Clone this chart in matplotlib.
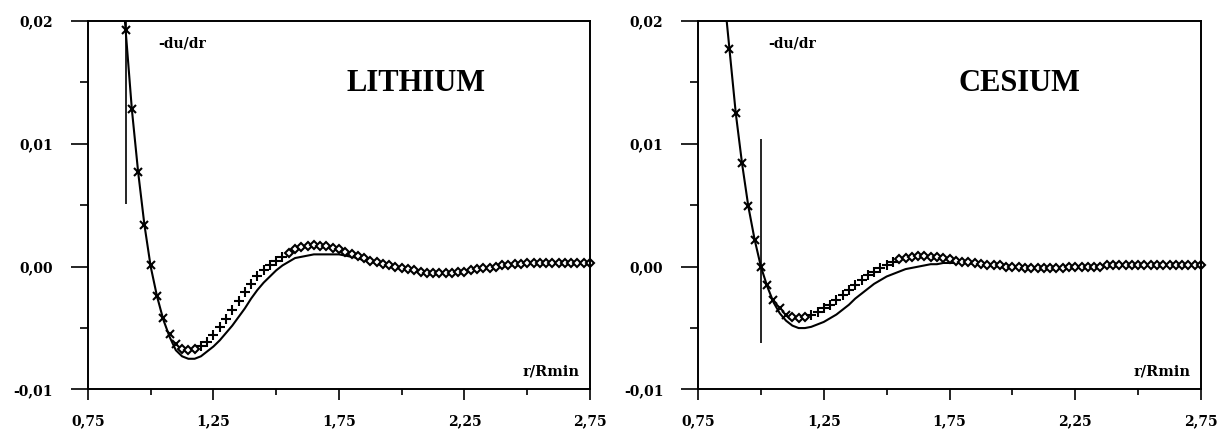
import numpy as np
import matplotlib
matplotlib.use("Agg")
import matplotlib.pyplot as plt

# -du/dr versus r/Rmin, two alkali metals
r_li_sim = np.round(np.arange(0.900, 2.7501, 0.025), 3)
li_sim = [
    0.0193, 0.0128, 0.0077, 0.0034, 0.0001, -0.0024, -0.0042, -0.0055, -0.0063, -0.0067,
    -0.0068, -0.0067, -0.0065, -0.0061, -0.0056, -0.0049, -0.0043, -0.0035, -0.0028, -0.0021,
    -0.0014, -0.0008, -0.0003, 0.0001, 0.0005, 0.0008, 0.0011, 0.0014, 0.0016, 0.0017,
    0.0018, 0.0017, 0.0017, 0.0015, 0.0014, 0.0012, 0.0010, 0.0009, 0.0007, 0.0005,
    0.0004, 0.0002, 0.0001, 0.0000, -0.0001, -0.0002, -0.0003, -0.0004, -0.0005, -0.0005,
    -0.0005, -0.0005, -0.0005, -0.0004, -0.0004, -0.0003, -0.0002, -0.0001, -0.0001, 0.0000,
    0.0001, 0.0001, 0.0002, 0.0002, 0.0003, 0.0003, 0.0003, 0.0003, 0.0003, 0.0003,
    0.0003, 0.0003, 0.0003, 0.0003, 0.0003,
]
r_li_fit = np.round(np.arange(0.875, 2.7501, 0.025), 3)
li_fit = [
    0.0257, 0.0193, 0.0128, 0.0077, 0.0034, 0.0000, -0.0024, -0.0043, -0.0057, -0.0068,
    -0.0073, -0.0075, -0.0075, -0.0073, -0.0069, -0.0065, -0.0060, -0.0054, -0.0048, -0.0041,
    -0.0034, -0.0026, -0.0019, -0.0013, -0.0008, -0.0003, 0.0001, 0.0004, 0.0007, 0.0008,
    0.0009, 0.0010, 0.0010, 0.0010, 0.0010, 0.0010, 0.0009, 0.0008, 0.0007, 0.0005,
    0.0004, 0.0003, 0.0002, 0.0001, 0.0000, -0.0001, -0.0002, -0.0003, -0.0004, -0.0005,
    -0.0005, -0.0005, -0.0005, -0.0005, -0.0004, -0.0004, -0.0003, -0.0002, -0.0001, -0.0001,
    0.0000, 0.0001, 0.0001, 0.0002, 0.0002, 0.0003, 0.0003, 0.0003, 0.0003, 0.0003,
    0.0003, 0.0003, 0.0003, 0.0003, 0.0003, 0.0003,
]

r_cs_sim = np.round(np.arange(0.875, 2.7501, 0.025), 3)
cs_sim = [
    0.0177, 0.0125, 0.0084, 0.0049, 0.0022, 0.0000, -0.0015, -0.0027, -0.0034, -0.0039,
    -0.0041, -0.0042, -0.0041, -0.0039, -0.0037, -0.0034, -0.0031, -0.0027, -0.0023, -0.0019,
    -0.0015, -0.0011, -0.0007, -0.0004, -0.0001, 0.0001, 0.0004, 0.0006, 0.0007, 0.0008,
    0.0009, 0.0009, 0.0008, 0.0008, 0.0007, 0.0006, 0.0005, 0.0004, 0.0004, 0.0003,
    0.0002, 0.0001, 0.0001, 0.0001, 0.0000, 0.0000, 0.0000, -0.0001, -0.0001, -0.0001,
    -0.0001, -0.0001, -0.0001, -0.0001, 0.0000, 0.0000, 0.0000, 0.0000, 0.0000, 0.0000,
    0.0001, 0.0001, 0.0001, 0.0001, 0.0001, 0.0001, 0.0001, 0.0001, 0.0001, 0.0001,
    0.0001, 0.0001, 0.0001, 0.0001, 0.0001, 0.0001,
]
r_cs_fit = np.round(np.arange(0.850, 2.7501, 0.025), 3)
cs_fit = [
    0.0229, 0.0177, 0.0125, 0.0084, 0.0049, 0.0022, 0.0000, -0.0016, -0.0029, -0.0038,
    -0.0044, -0.0048, -0.0050, -0.0050, -0.0049, -0.0047, -0.0045, -0.0042, -0.0039, -0.0035,
    -0.0031, -0.0026, -0.0022, -0.0018, -0.0014, -0.0011, -0.0008, -0.0006, -0.0004, -0.0002,
    -0.0001, 0.0000, 0.0001, 0.0002, 0.0002, 0.0003, 0.0003, 0.0003, 0.0003, 0.0003,
    0.0002, 0.0002, 0.0002, 0.0001, 0.0001, 0.0001, 0.0000, 0.0000, 0.0000, -0.0001,
    -0.0001, -0.0001, -0.0001, -0.0001, -0.0001, -0.0001, 0.0000, 0.0000, 0.0000, 0.0000,
    0.0000, 0.0000, 0.0001, 0.0001, 0.0001, 0.0001, 0.0001, 0.0001, 0.0001, 0.0001,
    0.0001, 0.0001, 0.0001, 0.0001, 0.0001, 0.0001, 0.0001,
]

x_ticks = [0.75, 1.25, 1.75, 2.25, 2.75]
x_labels = ["0,75", "1,25", "1,75", "2,25", "2,75"]
y_ticks = [-0.01, 0.0, 0.01, 0.02]
y_labels = ["-0,01", "0,00", "0,01", "0,02"]

# vertical marker lines (x, ymin, ymax)
li_vline = (0.9, 0.0051, 0.02)
cs_vline = (1.0, -0.0062, 0.0104)

BOLD = dict(family="DejaVu Serif", weight="bold")


def draw_panel(ax, r_sim, sim, r_fit, fit, vline, name, name_x):
    ax.plot(r_fit, fit, color="black", lw=1.5, clip_on=True)
    r_sim = np.asarray(r_sim)
    sim = np.asarray(sim)
    groups = [
        (r_sim <= 1.1, "x", 5.5),
        ((r_sim > 1.1) & (r_sim < 1.2), "D", 4.0),
        ((r_sim >= 1.2) & (r_sim <= 1.525), "+", 6.5),
        (r_sim > 1.525, "D", 4.0),
    ]
    for mask, mk, ms in groups:
        ax.plot(r_sim[mask], sim[mask], ls="none", marker=mk, ms=ms,
                mec="black", mfc="white", mew=1.5, clip_on=False)
    ax.vlines(vline[0], vline[1], vline[2], color="black", lw=1.2)

    ax.set_xlim(0.75, 2.75)
    ax.set_ylim(-0.01, 0.02)
    ax.set_xticks(x_ticks)
    ax.set_xticklabels(x_labels, **BOLD, fontsize=10)
    ax.set_xticks([1.0, 1.5, 2.0, 2.5], minor=True)
    ax.set_yticks(y_ticks)
    ax.set_yticklabels(y_labels, **BOLD, fontsize=10)
    ax.set_yticks([-0.005, 0.005, 0.015], minor=True)
    ax.tick_params(axis="x", which="major", direction="out", length=8, width=1.2, pad=10)
    ax.tick_params(axis="x", which="minor", direction="out", length=4, width=1.2)
    ax.tick_params(axis="y", which="major", direction="out", length=12, width=1.2, pad=13)
    ax.tick_params(axis="y", which="minor", direction="out", length=6, width=1.2)
    for s in ax.spines.values():
        s.set_linewidth(1.4)

    ax.text(1.03, 0.0182, "-du/dr", fontsize=10, va="center", ha="left", **BOLD)
    ax.text(2.71, -0.0085, "r/Rmin", fontsize=10.5, va="center", ha="right", **BOLD)
    ax.text(name_x, 0.0149, name, fontsize=22, va="center", ha="center",
            family="Liberation Serif", weight="bold")


fig = plt.figure(figsize=(12.18, 4.36), dpi=100)
ax1 = fig.add_axes([0.0722, 0.1067, 0.4122, 0.8451])
ax2 = fig.add_axes([0.5731, 0.1067, 0.4130, 0.8451])

draw_panel(ax1, r_li_sim, li_sim, r_li_fit, li_fit, li_vline, "LITHIUM", 2.055)
draw_panel(ax2, r_cs_sim, cs_sim, r_cs_fit, cs_fit, cs_vline, "CESIUM", 2.026)

fig.savefig("out.png", dpi=100)
